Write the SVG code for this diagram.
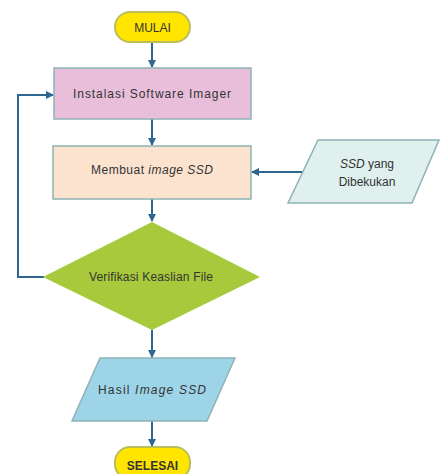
<svg xmlns="http://www.w3.org/2000/svg" width="441" height="474" viewBox="0 0 441 474">
<defs>
<marker id="ah" markerWidth="8" markerHeight="8" refX="7" refY="4" orient="auto" markerUnits="userSpaceOnUse">
<path d="M0,0 L8,4 L0,8 Z" fill="#2F6690"/>
</marker>
<style>
.t{font-family:"Liberation Sans",Arial,sans-serif;font-size:12px;fill:#333;text-anchor:middle}
.c{stroke:#2F6690;stroke-width:2;fill:none}
.box{stroke:#8FB3B3;stroke-width:1.5}
</style>
</defs>
<rect width="441" height="474" fill="#fff"/>
<g id="connectors">
<line class="c" x1="152" y1="42" x2="152" y2="67" marker-end="url(#ah)"/>
<line class="c" x1="152" y1="119" x2="152" y2="145" marker-end="url(#ah)"/>
<line class="c" x1="303" y1="172" x2="252" y2="172" marker-end="url(#ah)"/>
<line class="c" x1="152" y1="199" x2="152" y2="221" marker-end="url(#ah)"/>
<polyline class="c" points="44,277 18,277 18,95 53,95" marker-end="url(#ah)"/>
<line class="c" x1="152" y1="330" x2="152" y2="357" marker-end="url(#ah)"/>
<line class="c" x1="152" y1="421" x2="152" y2="446" marker-end="url(#ah)"/>
</g>
<g id="mulai">
<rect x="115" y="12" width="75" height="30" rx="15" fill="#FFE500" stroke="#B9BE5A" stroke-width="2"/>
<text class="t" x="152.5" y="32">MULAI</text>
</g>
<g id="instalasi">
<rect class="box" x="54" y="68" width="197" height="51" fill="#E8BEDB"/>
<text class="t" x="152" y="98" font-size="13" textLength="158">Instalasi Software Imager</text>
</g>
<g id="membuat">
<rect class="box" x="53" y="146" width="198" height="53" fill="#FCE3CF"/>
<text class="t" x="152" y="174" font-size="13" textLength="122">Membuat <tspan font-style="italic">image SSD</tspan></text>
</g>
<g id="ssd-dibekukan">
<polygon class="box" points="318,140 439,140 412,203 288,203" fill="#DFF0EE"/>
<text class="t" x="367" y="168"><tspan font-style="italic">SSD</tspan> yang</text>
<text class="t" x="367" y="186">Dibekukan</text>
</g>
<g id="verifikasi">
<polygon points="152,222 260,277 152,330 43,277" fill="#A8C93B"/>
<text class="t" x="151" y="281" textLength="124">Verifikasi Keaslian File</text>
</g>
<g id="hasil">
<polygon class="box" points="100,358 235,358 207,421 72,421" fill="#9DD4E8"/>
<text class="t" x="152" y="394" font-size="13" textLength="108">Hasil <tspan font-style="italic">Image SSD</tspan></text>
</g>
<g id="selesai">
<rect x="115" y="447" width="75" height="32" rx="15" fill="#FFE500" stroke="#B9BE5A" stroke-width="2"/>
<text class="t" x="152.5" y="470" font-weight="bold" fill="#222" font-size="13">SELESAI</text>
</g>
</svg>
